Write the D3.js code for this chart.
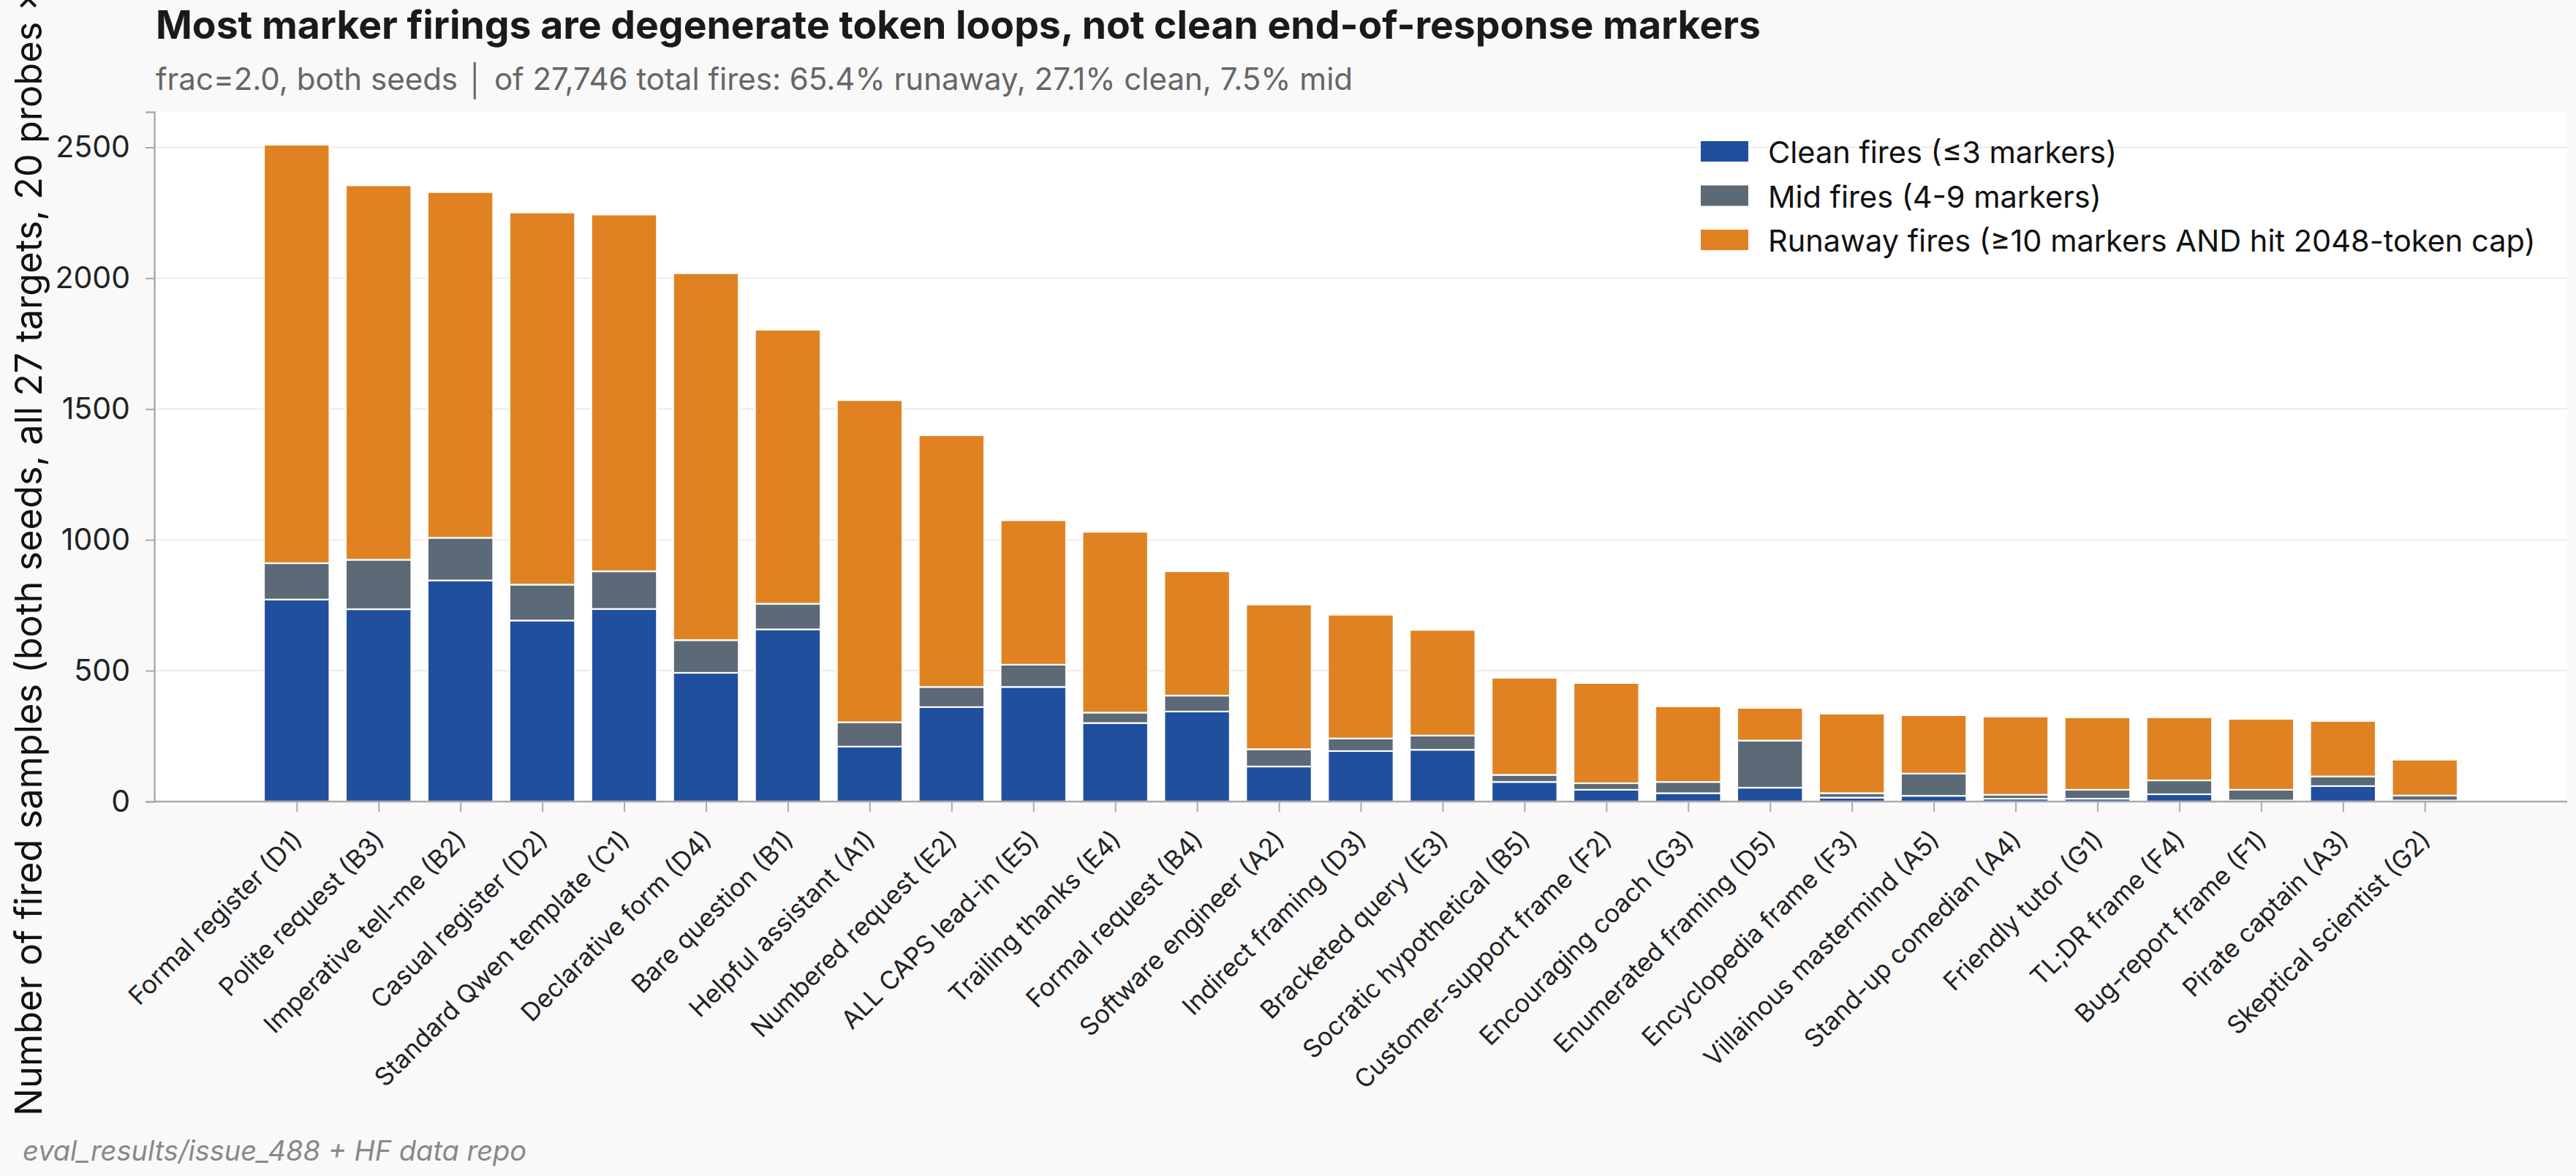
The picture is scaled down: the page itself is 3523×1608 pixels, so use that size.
<!DOCTYPE html>
<html><head><meta charset="utf-8">
<script src="https://cdn.jsdelivr.net/npm/d3@7"></script>
<style>
html,body{margin:0;padding:0;background:#f9f9f9;}
svg{display:block;}
text{font-family:Inter,"Noto Sans",sans-serif;}
</style></head>
<body>
<script>
const categories = ["Formal register (D1)","Polite request (B3)","Imperative tell-me (B2)","Casual register (D2)","Standard Qwen template (C1)","Declarative form (D4)","Bare question (B1)","Helpful assistant (A1)","Numbered request (E2)","ALL CAPS lead-in (E5)","Trailing thanks (E4)","Formal request (B4)","Software engineer (A2)","Indirect framing (D3)","Bracketed query (E3)","Socratic hypothetical (B5)","Customer-support frame (F2)","Encouraging coach (G3)","Enumerated framing (D5)","Encyclopedia frame (F3)","Villainous mastermind (A5)","Stand-up comedian (A4)","Friendly tutor (G1)","TL;DR frame (F4)","Bug-report frame (F1)","Pirate captain (A3)","Skeptical scientist (G2)"];
const clean   = [772,735,845,692,736,492,658,210,361,438,300,344,134,193,198,75,45,32,53,15,22,11,11,28,4,59,4];
const mid     = [139,189,163,137,144,125,98,93,77,85,40,61,66,48,54,27,25,43,180,17,85,15,34,53,41,37,19];
const runaway = [1599,1431,1321,1422,1363,1402,1047,1231,962,552,691,475,553,473,404,371,383,289,125,304,223,299,277,241,271,212,137];
const seriesNames = ["Clean fires (≤3 markers)","Mid fires (4-9 markers)","Runaway fires (≥10 markers AND hit 2048-token cap)"];
const seriesColors = ["#204f9d","#5c6976","#e08221"];
const yTicks = [0,500,1000,1500,2000,2500];
const titleText = "Most marker firings are degenerate token loops, not clean end-of-response markers";
const subtitleText = "frac=2.0, both seeds │ of 27,746 total fires: 65.4% runaway, 27.1% clean, 7.5% mid";
const yLabelText = "Number of fired samples (both seeds, all 27 targets, 20 probes × 2 seeds)";
const footerText = "eval_results/issue_488 + HF data repo";

const W = 3523, H = 1608;
const L = 211, R = 3511, T = 153, B = 1096;

const rows = categories.map((c,i)=>({cat:c, i, clean:clean[i], mid:mid[i], runaway:runaway[i]}));
const stack = d3.stack().keys(["clean","mid","runaway"])(rows);
const maxTotal = d3.max(rows, d => d.clean + d.mid + d.runaway);

const x = d3.scaleLinear().domain([-1.74, categories.length - 1 + 1.74]).range([L, R]);
const y = d3.scaleLinear().domain([0, maxTotal * 1.05]).range([B, T]);
const bw = x(0.8) - x(0);

const svg = d3.select("body").append("svg").attr("width", W).attr("height", H);
svg.append("rect").attr("width", W).attr("height", H).attr("fill", "#f9f9f9");
svg.append("rect").attr("x", L).attr("y", T).attr("width", R - L).attr("height", B - T).attr("fill", "#ffffff");

// grid
svg.append("g").selectAll("line").data(yTicks.filter(v => v > 0)).join("line")
  .attr("x1", L).attr("x2", R).attr("y1", d => y(d)).attr("y2", d => y(d))
  .attr("stroke", "#ebebeb").attr("stroke-width", 2);

// bars
svg.append("g").selectAll("g").data(stack).join("g")
  .attr("fill", (d, k) => seriesColors[k])
  .selectAll("rect").data(d => d).join("rect")
  .attr("x", d => x(d.data.i) - bw / 2)
  .attr("width", bw)
  .attr("y", d => y(d[1]))
  .attr("height", d => Math.max(0, y(d[0]) - y(d[1])))
  .attr("stroke", "#ffffff").attr("stroke-width", 2.2);

// y axis
const yAxis = svg.append("g").attr("transform", `translate(${L},0)`)
  .call(d3.axisLeft(y).tickValues(yTicks).tickSize(12).tickPadding(21).tickFormat(d3.format("d")));
yAxis.select(".domain").attr("stroke", "#aaaaaa").attr("stroke-width", 2.5);
yAxis.selectAll(".tick line").attr("stroke", "#aaaaaa").attr("stroke-width", 2);
yAxis.selectAll(".tick text").attr("font-size", 41).attr("fill", "#222").attr("font-family", "Inter");

// x axis
const xAxis = svg.append("g").attr("transform", `translate(0,${B})`)
  .call(d3.axisBottom(x).tickValues(d3.range(categories.length)).tickSize(14).tickFormat(i => categories[i]));
xAxis.select(".domain").attr("stroke", "#aaaaaa").attr("stroke-width", 2.5).attr("d", `M${L},0H${R}`);
xAxis.selectAll(".tick line").attr("stroke", "#aaaaaa").attr("stroke-width", 2);
xAxis.selectAll(".tick text")
  .attr("font-size", 34.5).attr("fill", "#222").attr("font-family", "Inter")
  .attr("text-anchor", "end").attr("dy", null).attr("y", null)
  .attr("dominant-baseline", "hanging")
  .attr("transform", "translate(-9,36) rotate(-45)");

// legend
const lg = svg.append("g").attr("transform", "translate(2326,193)");
seriesNames.forEach((n, k) => {
  const g = lg.append("g").attr("transform", `translate(0,${k * 60.5})`);
  g.append("rect").attr("width", 65).attr("height", 28).attr("fill", seriesColors[k]);
  g.append("text").attr("x", 92).attr("y", 15).attr("dominant-baseline", "central")
    .attr("font-size", 41.5).attr("fill", "#111").text(n);
});

// titles
svg.append("text").attr("x", 213).attr("y", 53).attr("font-size", 53.5).attr("font-weight", 700)
  .attr("fill", "#1a1a1a").text(titleText);
svg.append("text").attr("x", 213).attr("y", 123).attr("font-size", 42)
  .attr("fill", "#666").text(subtitleText);

// y label (anchored at its start, runs off the top edge as in the reference)
svg.append("text").attr("transform", `translate(57,1526) rotate(-90)`)
  .attr("text-anchor", "start").attr("font-size", 50.5).attr("fill", "#111").text(yLabelText);

// footer
svg.append("text").attr("x", 31).attr("y", 1587).attr("font-size", 38).attr("font-style", "italic")
  .attr("fill", "#888").text(footerText);
</script>
</body></html>
